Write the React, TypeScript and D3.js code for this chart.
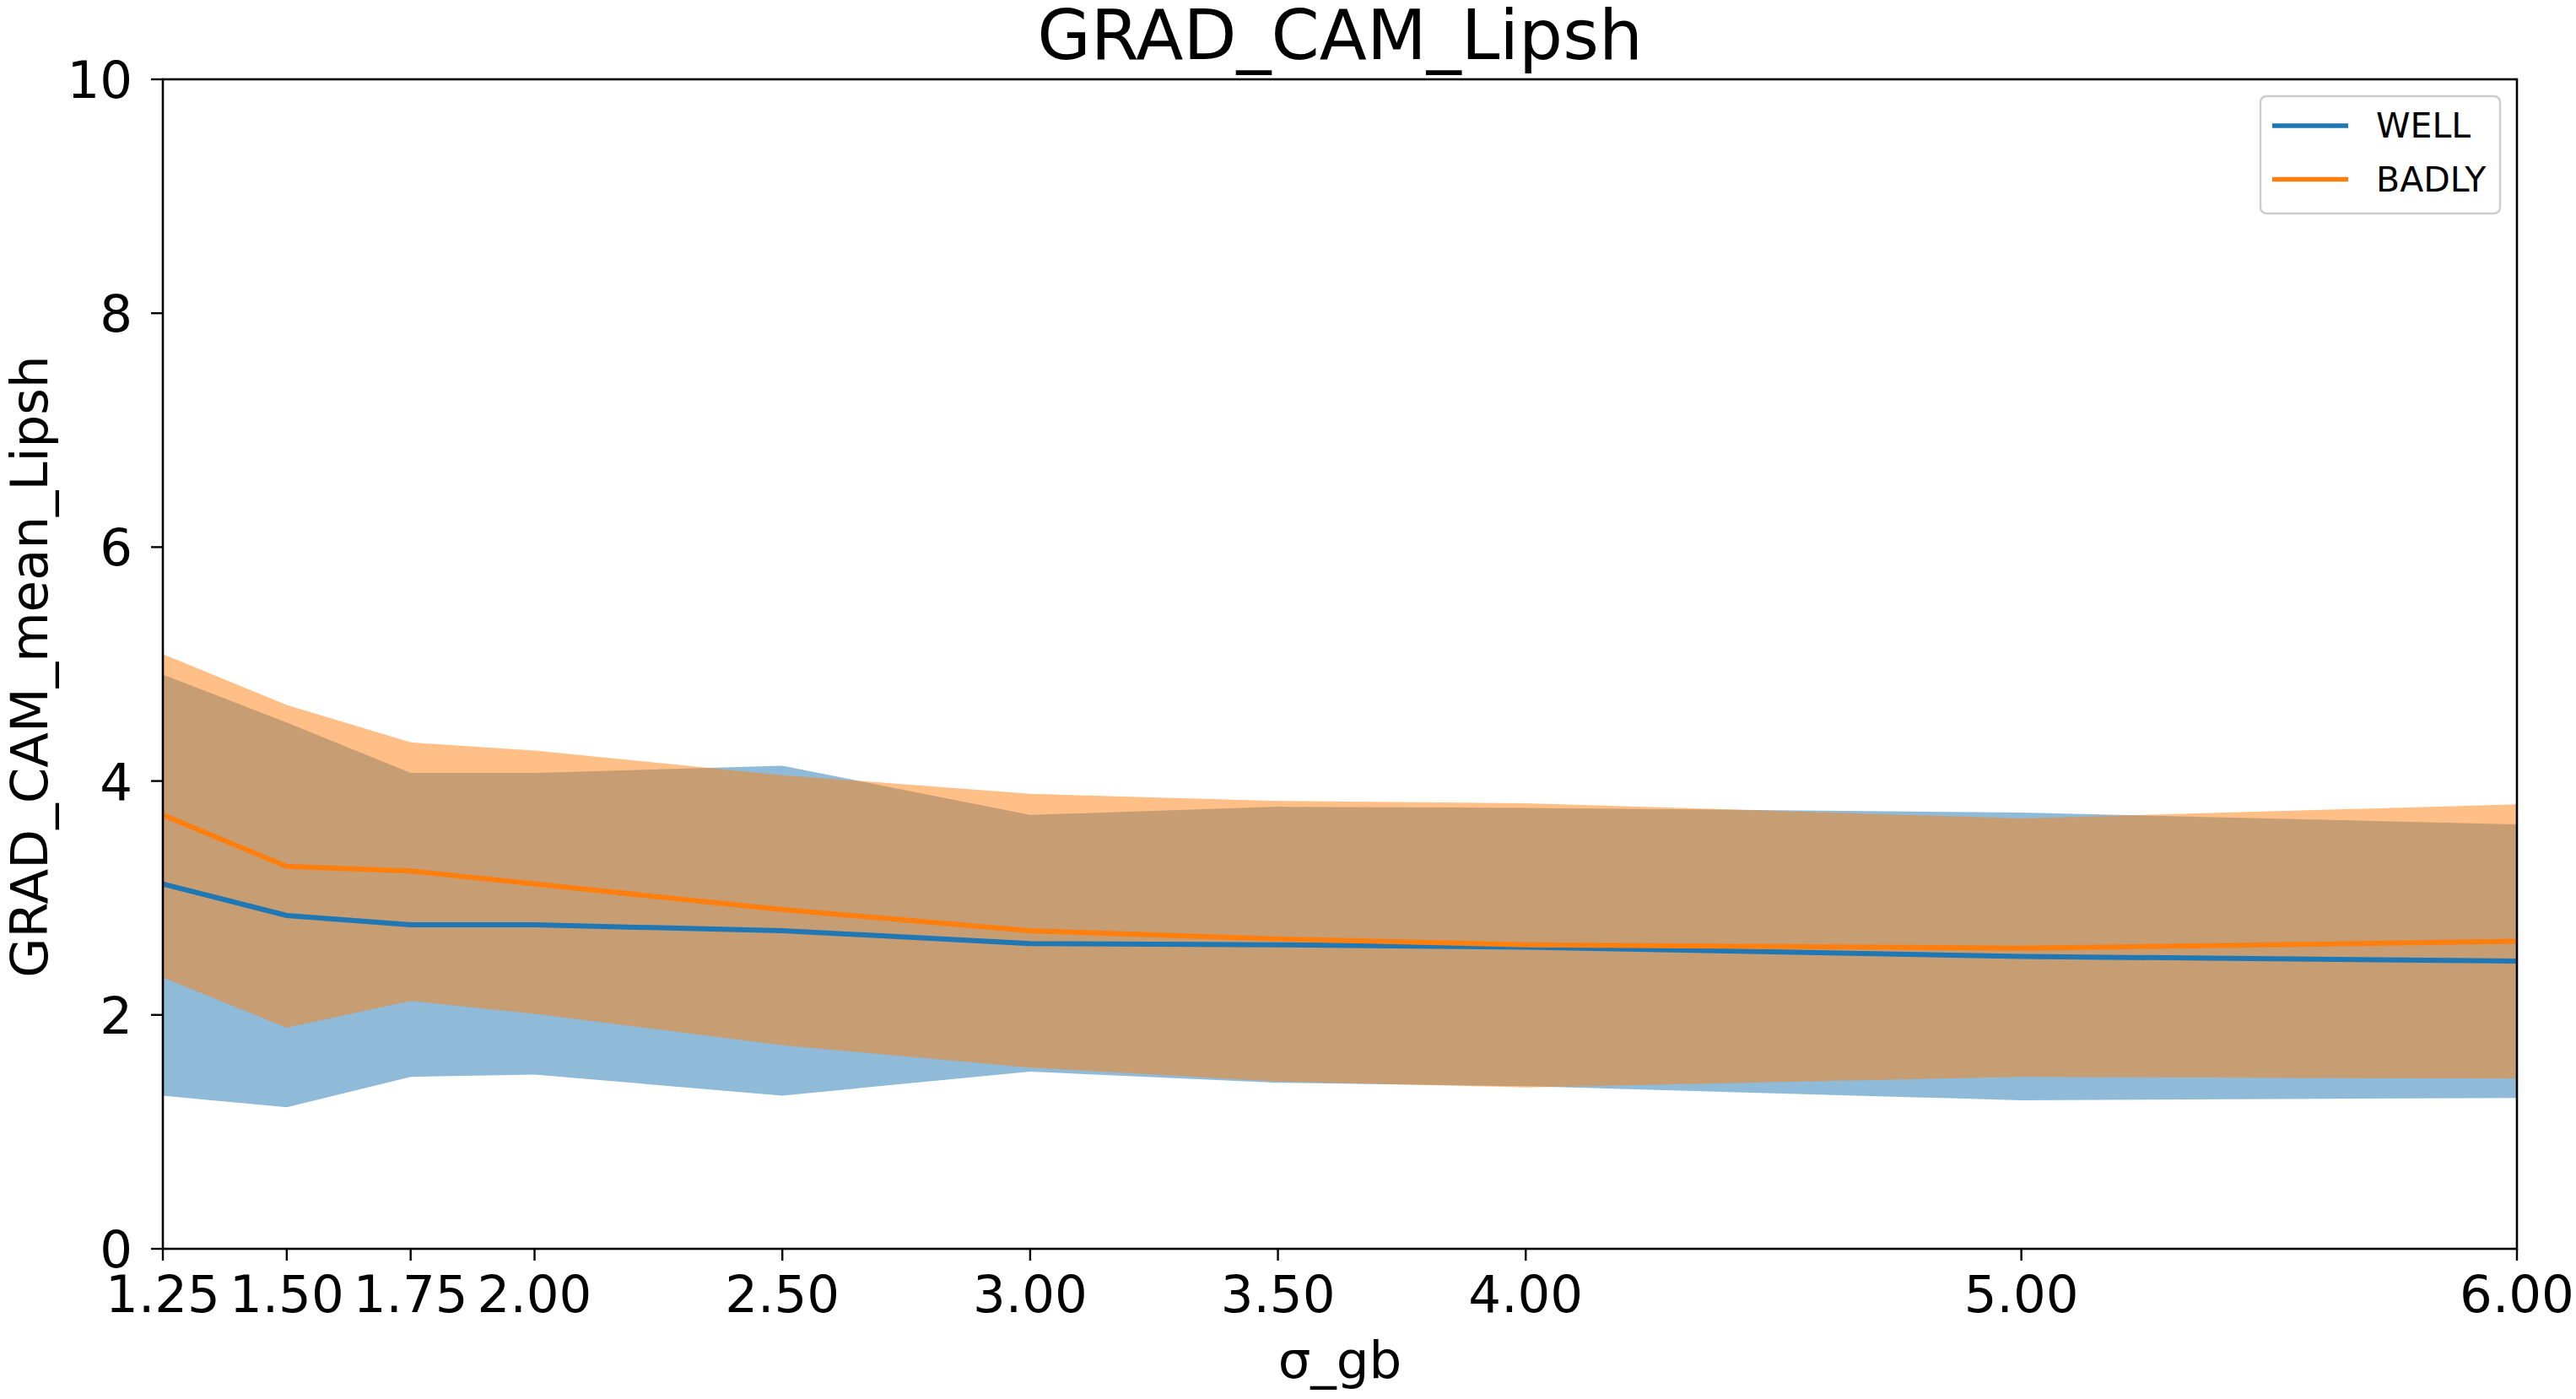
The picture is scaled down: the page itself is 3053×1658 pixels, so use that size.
import React, { useEffect } from "react";
import * as d3 from "d3";

const sigma = [1.25, 1.5, 1.75, 2.0, 2.5, 3.0, 3.5, 4.0, 5.0, 6.0];
const xTickLabels = ["1.25", "1.50", "1.75", "2.00", "2.50", "3.00", "3.50", "4.00", "5.00", "6.00"];
const yTicks = [0, 2, 4, 6, 8, 10];

const wellMean = [3.12, 2.85, 2.77, 2.77, 2.72, 2.61, 2.6, 2.58, 2.5, 2.46];
const wellUpper = [4.91, 4.5, 4.07, 4.07, 4.13, 3.71, 3.78, 3.77, 3.73, 3.63];
const wellLower = [1.31, 1.21, 1.47, 1.49, 1.31, 1.515, 1.42, 1.39, 1.27, 1.29];

const badlyMean = [3.71, 3.27, 3.23, 3.12, 2.9, 2.72, 2.65, 2.6, 2.57, 2.63];
const badlyUpper = [5.085, 4.65, 4.33, 4.26, 4.05, 3.89, 3.83, 3.81, 3.68, 3.8];
const badlyLower = [2.32, 1.89, 2.12, 2.01, 1.74, 1.55, 1.43, 1.38, 1.47, 1.455];

const seriesNames = ["WELL", "BADLY"];
const colors = ["#1f77b4", "#ff7f0e"];

const W = 3053;
const H = 1658;
const M = { left: 193, right: 2983, top: 94, bottom: 1480 };
const FONT = "'DejaVu Sans', sans-serif";

export default function App() {
  useEffect(() => {
    document.body.style.margin = "0";
    document.body.style.overflow = "hidden";
  }, []);

  const x = d3.scaleLinear().domain([1.25, 6.0]).range([M.left, M.right]);
  const y = d3.scaleLinear().domain([0, 10]).range([M.bottom, M.top]);

  const idx = sigma.map((_, i) => i);
  const area = (lo: number[], hi: number[]) =>
    d3
      .area<number>()
      .x((i) => x(sigma[i]))
      .y0((i) => y(lo[i]))
      .y1((i) => y(hi[i]))(idx) || "";
  const line = (v: number[]) =>
    d3
      .line<number>()
      .x((i) => x(sigma[i]))
      .y((i) => y(v[i]))(idx) || "";

  const bands = [
    { lo: wellLower, hi: wellUpper, mean: wellMean },
    { lo: badlyLower, hi: badlyUpper, mean: badlyMean },
  ];

  return (
    <svg
      width={W}
      height={H}
      style={{ position: "absolute", left: 0, top: 0, background: "#fff" }}
      fontFamily={FONT}
    >
      <rect x={0} y={0} width={W} height={H} fill="#fff" />
      <defs>
        <clipPath id="plotclip">
          <rect x={M.left} y={M.top} width={M.right - M.left} height={M.bottom - M.top} />
        </clipPath>
      </defs>
      <g clipPath="url(#plotclip)">
        {bands.map((b, k) => (
          <path key={"a" + k} d={area(b.lo, b.hi)} fill={colors[k]} fillOpacity={0.5} stroke="none" />
        ))}
        {bands.map((b, k) => (
          <path
            key={"l" + k}
            d={line(b.mean)}
            fill="none"
            stroke={colors[k]}
            strokeWidth={6}
            strokeLinejoin="round"
            strokeLinecap="square"
          />
        ))}
      </g>

      {/* spines */}
      <rect
        x={M.left}
        y={M.top}
        width={M.right - M.left}
        height={M.bottom - M.top}
        fill="none"
        stroke="#000"
        strokeWidth={2.6}
        strokeLinejoin="miter"
      />

      {/* x ticks */}
      {sigma.map((s, i) => (
        <g key={"xt" + i}>
          <line x1={x(s)} x2={x(s)} y1={M.bottom} y2={M.bottom + 14} stroke="#000" strokeWidth={2.4} />
          <text x={x(s)} y={1555} fontSize={61} textAnchor="middle" fill="#000">
            {xTickLabels[i]}
          </text>
        </g>
      ))}

      {/* y ticks */}
      {yTicks.map((t) => (
        <g key={"yt" + t}>
          <line x1={M.left - 14} x2={M.left} y1={y(t)} y2={y(t)} stroke="#000" strokeWidth={2.4} />
          <text x={157} y={y(t) + 22} fontSize={61} textAnchor="end" fill="#000">
            {String(t)}
          </text>
        </g>
      ))}

      {/* title and axis labels */}
      <text x={(M.left + M.right) / 2} y={70} fontSize={82} textAnchor="middle" fill="#000">
        GRAD_CAM_Lipsh
      </text>
      <text x={(M.left + M.right) / 2} y={1633} fontSize={61} textAnchor="middle" fill="#000">
        σ_gb
      </text>
      <text
        transform={`translate(56, ${(M.top + M.bottom) / 2 + 3}) rotate(-90)`}
        fontSize={61}
        textAnchor="middle"
        fill="#000"
      >
        GRAD_CAM_mean_Lipsh
      </text>

      {/* legend */}
      <rect x={2679} y={114} width={284} height={139} rx={7} ry={7} fill="#fff" fillOpacity={0.8} stroke="#cccccc" strokeWidth={2.4} />
      {seriesNames.map((n, k) => (
        <g key={"lg" + k}>
          <line x1={2693} x2={2783} y1={149 + k * 63.5} y2={149 + k * 63.5} stroke={colors[k]} strokeWidth={5.6} />
          <text x={2816} y={163 + k * 64} fontSize={41} fill="#000">
            {n}
          </text>
        </g>
      ))}
    </svg>
  );
}
